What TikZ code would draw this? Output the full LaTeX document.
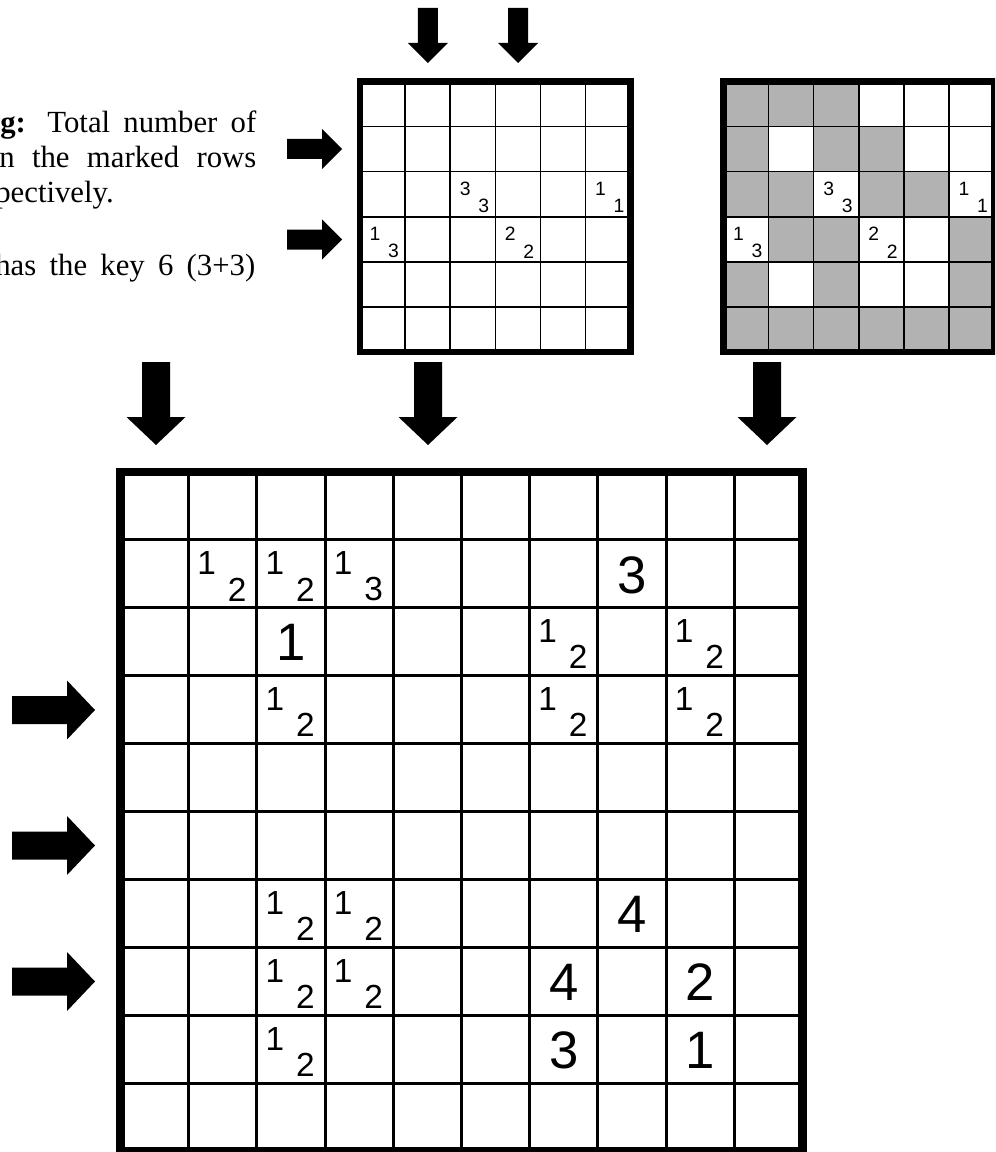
\documentclass[tikz,border=0pt]{standalone}
\usepackage{fontspec}
\setmainfont{Liberation Serif}
\setsansfont{Liberation Sans}
\usetikzlibrary{calc}

\tikzset{
  bigarrow/.pic={\fill (-14,0) -- (14,0) -- (14,55) -- (29.5,55) -- (0,83) -- (-29.5,55) -- (-14,55) -- cycle;},
  smallarrow/.pic={\fill (-10,0) -- (10,0) -- (10,35) -- (20,35) -- (0,55) -- (-20,35) -- (-10,35) -- cycle;}
}

\begin{document}
\begin{tikzpicture}[x=0.02cm,y=-0.02cm,
  thingrid/.style={line width=0.85pt},
  thinframe/.style={line width=3.6pt},
  biggrid/.style={line width=1.7pt},
  bigframe/.style={line width=4.6pt},
  shade/.style={fill=black!30},
  sdig/.style={inner sep=0pt,font=\sffamily\fontsize{11}{11}\selectfont},
  mdig/.style={inner sep=0pt,font=\sffamily\fontsize{19}{19}\selectfont},
  ldig/.style={inner sep=0pt,font=\sffamily\fontsize{30}{30}\selectfont},
  txt/.style={inner sep=0pt,anchor=base west,font=\fontsize{17.5}{21}\selectfont}
]
  \useasboundingbox (0,0) rectangle (995,1152);
  \clip (0,0) rectangle (995,1152);

  % text at the left
  \node[txt] (t1) at (0,133) {\makebox[5.12cm][s]{\textbf{g:} Total number of}};
  \node[txt] (t2) at (-1,168) {\makebox[5.14cm][s]{n the marked rows}};
  \node[txt] (t3) at (-5,203) {pectively.};
  \node[txt] (t4) at (-5,275) {\makebox[5.2cm][s]{has the key 6 (3+3)}};

  % small grids
  \foreach \r/\c in {0/0,0/1,0/2,1/0,1/2,1/3,2/0,2/1,2/3,2/4,3/1,3/2,3/5,4/0,4/2,4/5,5/0,5/1,5/2,5/3,5/4,5/5}
    \fill[shade] ({723.5+45.1*\c},{81.5+45.1*\r}) rectangle +(45.1,45.1);
  \foreach \gx in {360,723.5} {
    \foreach \i in {1,...,5} {
      \draw[thingrid] ({\gx+45.1*\i},81.5) -- +(0,270.6);
      \draw[thingrid] (\gx,{81.5+45.1*\i}) -- +(270.6,0);
    }
    \draw[thinframe] (\gx,81.5) rectangle +(270.6,270.6);
    \foreach \r/\c/\t/\b in {2/2/3/3,2/5/1/1,3/0/1/3,3/3/2/2} {
      \node[sdig] (s\gx\r\c a) at ({\gx+45.1*\c+15},{81.5+45.1*\r+17}) {\t};
      \node[sdig] (s\gx\r\c b) at ({\gx+45.1*\c+33.5},{81.5+45.1*\r+34.5}) {\b};
    }
  }

  % big grid
  \foreach \i in {1,...,9} {
    \draw[biggrid] ({120.5+68.2*\i},472) -- (120.5+68.2*\i,1151);
    \draw[biggrid] (120.5,{472+67.9*\i}) -- (802.5,{472+67.9*\i});
  }
  \draw[bigframe] (120.5,472) rectangle (802.5,1151);
  \foreach \r/\c/\t/\b in {1/1/1/2,1/2/1/2,1/3/1/3,2/6/1/2,2/8/1/2,3/2/1/2,3/6/1/2,3/8/1/2,6/2/1/2,6/3/1/2,7/2/1/2,7/3/1/2,8/2/1/2} {
    \node[mdig] (p\r\c a) at ({120.5+68.2*\c+18},{472+67.9*\r+23.5}) {\t};
    \node[mdig] (p\r\c b) at ({120.5+68.2*\c+48.5},{472+67.9*\r+49.5}) {\b};
  }
  \foreach \r/\c/\v in {1/7/3,2/2/1,6/7/4,7/6/4,7/8/2,8/6/3,8/8/1}
    \node[ldig] (n\r\c) at ({120.5+68.2*\c+34.1},{472+67.9*\r+35}) {\v};

  % arrows
  \pic at (427.8,8) {smallarrow};
  \pic at (518,8) {smallarrow};
  \pic[rotate=90] at (287,149) {smallarrow};
  \pic[rotate=90] at (287,239.5) {smallarrow};
  \pic at (156,362) {bigarrow};
  \pic at (428,362) {bigarrow};
  \pic at (767,362) {bigarrow};
  \pic[rotate=90] at (12,710) {bigarrow};
  \pic[rotate=90] at (12,845.5) {bigarrow};
  \pic[rotate=90] at (12,981.5) {bigarrow};
\end{tikzpicture}
\end{document}
